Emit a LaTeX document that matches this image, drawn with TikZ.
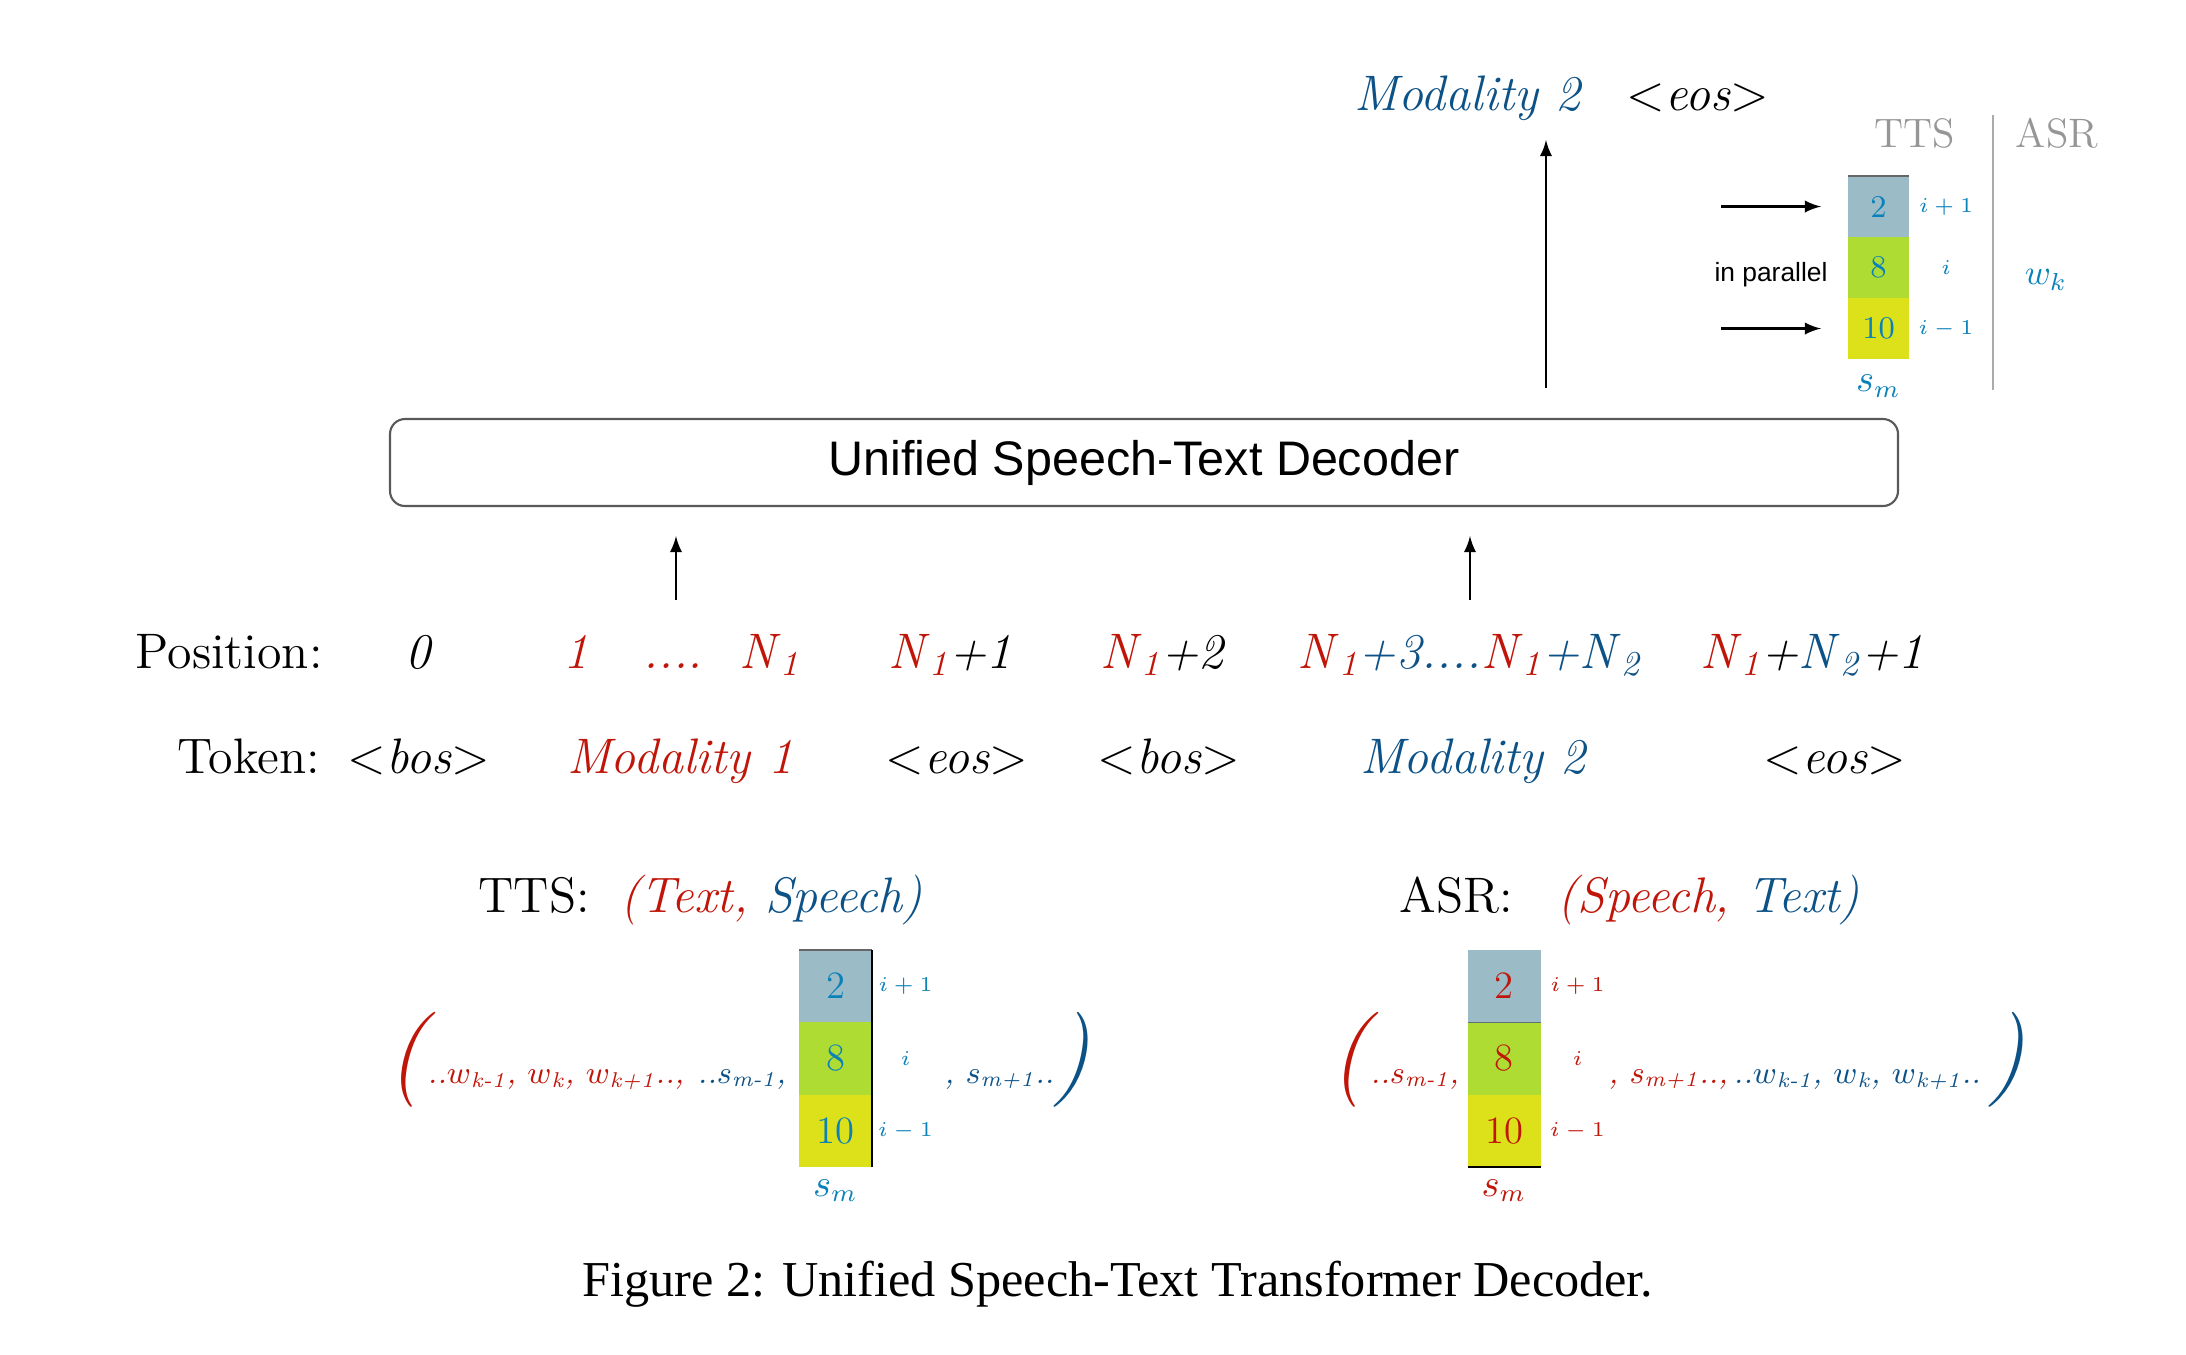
\documentclass[tikz,border=0pt]{standalone}
\usepackage{fontspec}
\usetikzlibrary{positioning}
\newfontfamily\decofont{Liberation Sans}
\newfontfamily\captfont{Liberation Serif}
\definecolor{redT}{RGB}{192,22,10}
\definecolor{blueT}{RGB}{13,82,135}
\definecolor{cyanT}{RGB}{10,130,185}
\definecolor{grayT}{RGB}{150,150,150}
\definecolor{cellA}{RGB}{155,188,198}
\definecolor{cellB}{RGB}{175,220,50}
\definecolor{cellC}{RGB}{220,225,25}
\newcommand\Nsub[1]{\textit{N}\textsubscript{\textit{#1}}}
\newcommand\wsub[1]{$w$\textsubscript{\textit{#1}}}
\newcommand\ssub[1]{$s$\textsubscript{\textit{#1}}}
\tikzset{
  row/.style={font=\fontsize{14.2}{17}\selectfont, inner sep=0pt, anchor=base},
  seq/.style={font=\fontsize{8.7}{11}\selectfont, inner sep=0pt, anchor=base west},
  cell/.style={minimum width=7.3mm, minimum height=7.23mm, inner sep=0pt, outer sep=0pt, font=\fontsize{11}{13}\selectfont},
  smallcell/.style={cell, minimum width=6.1mm, minimum height=6.1mm, font=\fontsize{9}{11}\selectfont},
  idx/.style={font=\fontsize{6.5}{8}\selectfont, inner sep=0pt},
  paren/.style={font=\fontsize{27}{29}\selectfont, inner sep=0pt},
  symb/.style={font=\fontsize{10.5}{12}\selectfont, inner sep=0pt},
  feed/.style={->, line width=0.6pt},
}
\begin{document}
\begin{tikzpicture}[>=latex, x=0.1mm, y=-0.1mm]
  \useasboundingbox (0,0) rectangle (2186,1354);
  % decoder
  \node[draw=black!65, line width=0.6pt, rounded corners=1.5mm, minimum width=150.8mm, minimum height=8.7mm,
        font=\decofont\fontsize{13.8}{16}\selectfont] (dec) at (1144,462.5) {Unified Speech-Text Decoder};
  % output
  \node[row, anchor=base west, text=blueT] (outmod) at (1354,110) {\textit{Modality 2}};
  \node[row, anchor=base west] (outeos) at (1626,110) {$<$\textit{eos}$>$};
  \coordinate (outfoot) at (1546,388);
  \coordinate (outtip) at (1546,140);
  \draw[feed] (outfoot) -- (outtip);
  % inputs
  \coordinate (infoot1) at (676,600);
  \coordinate (intip1) at (676,536);
  \draw[feed] (infoot1) -- (intip1);
  \coordinate (infoot2) at (1470,600);
  \coordinate (intip2) at (1470,536);
  \draw[feed] (infoot2) -- (intip2);
  % positions
  \node[row, anchor=base west] (poslab) at (135,668) {Position:};
  \node[row] (pos0) at (419,668) {\textit{0}};
  \node[row, text=redT] (pos1) at (576,668) {\textit{1}};
  \node[row, text=redT] (posdots) at (673,668) {\textit{....}};
  \node[row, text=redT] (posn) at (770,668) {\Nsub{1}};
  \node[row] (posn1) at (950,668) {\textcolor{redT}{\Nsub{1}}\textit{+1}};
  \node[row] (posn2) at (1163,668) {\textcolor{redT}{\Nsub{1}}\textit{+2}};
  \node[row] (posn3) at (1470,668) {\textcolor{redT}{\Nsub{1}}\textcolor{blueT}{\textit{+3....}}\textcolor{redT}{\Nsub{1}}\textcolor{blueT}{\textit{+}\Nsub{2}}};
  \node[row] (posend) at (1812,668) {\textcolor{redT}{\Nsub{1}}\textit{+}\textcolor{blueT}{\Nsub{2}}\textit{+1}};
  % tokens
  \node[row, anchor=base west] (toklab) at (177,773) {Token:};
  \node[row] (tokbos1) at (419,773) {$<$\textit{bos}$>$};
  \node[row, text=redT] (tokmod1) at (680,773) {\textit{Modality 1}};
  \node[row] (tokeos1) at (957,773) {$<$\textit{eos}$>$};
  \node[row] (tokbos2) at (1169,773) {$<$\textit{bos}$>$};
  \node[row, text=blueT] (tokmod2) at (1474,773) {\textit{Modality 2}};
  \node[row] (tokeos2) at (1835,773) {$<$\textit{eos}$>$};
  % TTS pair
  \node[row, anchor=base west] (ttsname) at (478,912) {TTS:};
  \node[row, anchor=base west] (ttspair) at (620,912) {\textit{\textcolor{redT}{(Text,} \textcolor{blueT}{Speech)}}};
  \node[paren, text=redT] (ttsopen) at (412,1060) {\textit{(}};
  \node[seq, text=redT] (ttsw) at (427,1083) {\textit{..\wsub{k-1}, \wsub{k}, \wsub{k+1}..,}};
  \node[seq, text=blueT] (ttsprev) at (697,1083) {\textit{..\ssub{m-1},}};
  \foreach \v/\f/\ix [count=\k] in {2/cellA/i+1, 8/cellB/i, 10/cellC/i-1}{
    \node[cell, fill=\f, text=cyanT] (tts\k) at (835.5,{913.8+72.3*\k}) {\v};
    \node[idx, text=cyanT] (ttsi\k) at ([xshift=3.35mm]tts\k.east) {$\ix$};
  }
  \draw[black!60, line width=0.5pt] (tts1.north west) -- (tts1.north east);
  \draw[black, line width=0.5pt] (tts1.north east) -- (tts3.south east);
  \node[symb, text=cyanT, below=1.2mm of tts3] (ttssm) {$s_m$};
  \node[seq, text=blueT] (ttsnext) at (944,1083) {\textit{, \ssub{m+1}..}};
  \node[paren, text=blueT] (ttsclose) at (1071,1060) {\textit{)}};
  % ASR pair
  \node[row, anchor=base west] (asrname) at (1399,912) {ASR:};
  \node[row, anchor=base west] (asrpair) at (1557,912) {\textit{\textcolor{redT}{(Speech,} \textcolor{blueT}{Text)}}};
  \node[paren, text=redT] (asropen) at (1355,1060) {\textit{(}};
  \node[seq, text=redT] (asrprev) at (1370,1083) {\textit{..\ssub{m-1},}};
  \foreach \v/\f/\ix [count=\k] in {2/cellA/i+1, 8/cellB/i, 10/cellC/i-1}{
    \node[cell, fill=\f, text=redT] (asr\k) at (1504,{913.8+72.3*\k}) {\v};
    \node[idx, text=redT] (asri\k) at ([xshift=3.7mm]asr\k.east) {$\ix$};
  }
  \draw[cellA!60!black, line width=0.3pt] (asr1.south west) -- (asr1.south east);
  \draw[black, line width=0.6pt] (asr3.south west) -- (asr3.south east);
  \node[symb, text=redT, below=1.2mm of asr3] (asrsm) {$s_m$};
  \node[seq, text=redT] (asrnext) at (1608,1083) {\textit{, \ssub{m+1}..,}};
  \node[seq, text=blueT] (asrw) at (1733,1083) {\textit{..\wsub{k-1}, \wsub{k}, \wsub{k+1}..}};
  \node[paren, text=blueT] (asrclose) at (2006,1060) {\textit{)}};
  % decoding step, top right
  \node[font=\fontsize{11.7}{14}\selectfont, text=grayT, anchor=base] (hdtts) at (1915,147) {TTS};
  \node[font=\fontsize{11.7}{14}\selectfont, text=grayT, anchor=base] (hdasr) at (2057,147) {ASR};
  \draw[grayT!80, line width=0.5pt] (1993,115) -- (1993,390);
  \foreach \v/\f/\ix [count=\k] in {2/cellA/i+1, 8/cellB/i, 10/cellC/i-1}{
    \node[smallcell, fill=\f, text=cyanT] (top\k) at (1878.5,{145.5+61*\k}) {\v};
    \node[idx, font=\fontsize{6.3}{7}\selectfont, text=cyanT] (topi\k) at ([xshift=3.7mm]top\k.east) {$\ix$};
  }
  \draw[black!60, line width=0.5pt] (top1.north west) -- (top1.north east);
  \node[symb, text=cyanT, below=1.5mm of top3] (topsm) {$s_m$};
  \draw[feed] ([xshift=-12.7mm]top1.west) -- ([xshift=-2.7mm]top1.west);
  \draw[feed] ([xshift=-12.7mm]top3.west) -- ([xshift=-2.7mm]top3.west);
  \node[font=\decofont\fontsize{7.5}{9}\selectfont, inner sep=0pt] (par) at (1771,275) {in parallel};
  \node[font=\fontsize{10}{11}\selectfont, text=cyanT, inner sep=0pt] (topwk) at (2046,280) {$w_k$};
  % caption
  \node[font=\captfont\fontsize{14.3}{17}\selectfont, anchor=base, inner sep=0pt] (caption) at (1118,1296) {Figure 2: Unified Speech-Text Transformer Decoder.};
\end{tikzpicture}
\end{document}
